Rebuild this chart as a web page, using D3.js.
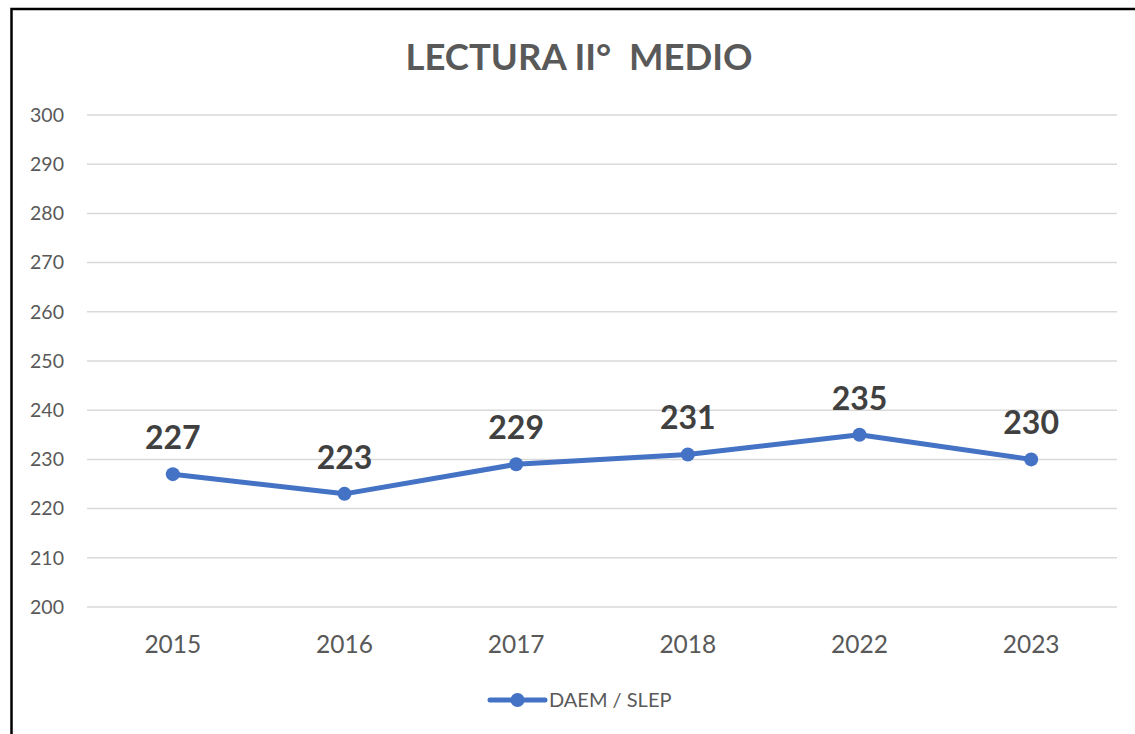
<!DOCTYPE html>
<html>
<head>
<meta charset="utf-8">
<script src="https://d3js.org/d3.v7.min.js"></script>
<style>
  body { margin: 0; background: #fff; }
  text { font-family: Lato, "Open Sans", sans-serif; }
</style>
</head>
<body>
<script>
  // chart data
  var years = ["2015", "2016", "2017", "2018", "2022", "2023"];
  var scores = [227, 223, 229, 231, 235, 230];
  var yTicks = [200, 210, 220, 230, 240, 250, 260, 270, 280, 290, 300];
  var seriesName = "DAEM / SLEP";
  var title = "LECTURA II°\u00a0 MEDIO";

  var W = 1135, H = 734;
  var plotL = 87, plotR = 1117, plotT = 115, plotB = 607;

  var svg = d3.select("body").append("svg")
      .attr("width", W).attr("height", H);

  // chart frame (right and bottom edges fall outside the picture)
  svg.append("rect")
      .attr("x", 11.5).attr("y", 9).attr("width", W + 10).attr("height", H + 10)
      .attr("fill", "#fff").attr("stroke", "#000").attr("stroke-width", 2.5);

  var x = d3.scaleBand().domain(years).range([plotL, plotR]);
  var y = d3.scaleLinear().domain([200, 300]).range([plotB, plotT]);

  // gridlines
  svg.append("g").selectAll("line")
      .data(yTicks).join("line")
      .attr("x1", plotL).attr("x2", plotR)
      .attr("y1", function(d) { return y(d); })
      .attr("y2", function(d) { return y(d); })
      .attr("stroke", "#d9d9d9").attr("stroke-width", 1.5);

  // y axis labels
  var yAxis = d3.axisLeft(y).tickValues(yTicks).tickSize(0).tickPadding(23);
  var gy = svg.append("g").attr("transform", "translate(" + plotL + ",0)").call(yAxis);
  gy.select(".domain").remove();
  gy.selectAll("text").attr("fill", "#595959").style("font-size", "19.5px")
      .style("font-family", "Lato, 'Open Sans', sans-serif");

  // x axis labels
  var xAxis = d3.axisBottom(x).tickSize(0).tickPadding(29);
  var gx = svg.append("g").attr("transform", "translate(0," + plotB + ")").call(xAxis);
  gx.select(".domain").remove();
  gx.selectAll("text").attr("fill", "#595959").style("font-size", "24.5px")
      .style("font-family", "Lato, 'Open Sans', sans-serif");

  // title
  svg.append("text")
      .attr("x", 579).attr("y", 70)
      .attr("text-anchor", "middle")
      .attr("fill", "#595959")
      .style("font-size", "36.5px").style("font-weight", "bold")
      .text(title);

  var cx = function(d, i) { return x(years[i]) + x.bandwidth() / 2; };

  // series line
  var line = d3.line()
      .x(function(d, i) { return cx(d, i); })
      .y(function(d) { return y(d); });
  svg.append("path")
      .datum(scores)
      .attr("d", line)
      .attr("fill", "none")
      .attr("stroke", "#4472c4")
      .attr("stroke-width", 5)
      .attr("stroke-linejoin", "round");

  svg.append("g").selectAll("circle")
      .data(scores).join("circle")
      .attr("cx", cx)
      .attr("cy", function(d) { return y(d); })
      .attr("r", 7)
      .attr("fill", "#4472c4");

  // data labels
  svg.append("g").selectAll("text")
      .data(scores).join("text")
      .attr("x", cx)
      .attr("y", function(d) { return y(d) - 25; })
      .attr("text-anchor", "middle")
      .attr("fill", "#404040")
      .style("font-size", "32px").style("font-weight", "bold")
      .text(function(d) { return d; });

  // legend
  var lg = svg.append("g").attr("transform", "translate(490,700)");
  lg.append("line").attr("x1", 0).attr("x2", 55).attr("y1", 0).attr("y2", 0)
      .attr("stroke", "#4472c4").attr("stroke-width", 5).attr("stroke-linecap", "round");
  lg.append("circle").attr("cx", 27.5).attr("cy", 0).attr("r", 7).attr("fill", "#4472c4");
  lg.append("text").attr("x", 59).attr("y", 7)
      .attr("fill", "#595959").style("font-size", "20px")
      .text(seriesName);
</script>
</body>
</html>
